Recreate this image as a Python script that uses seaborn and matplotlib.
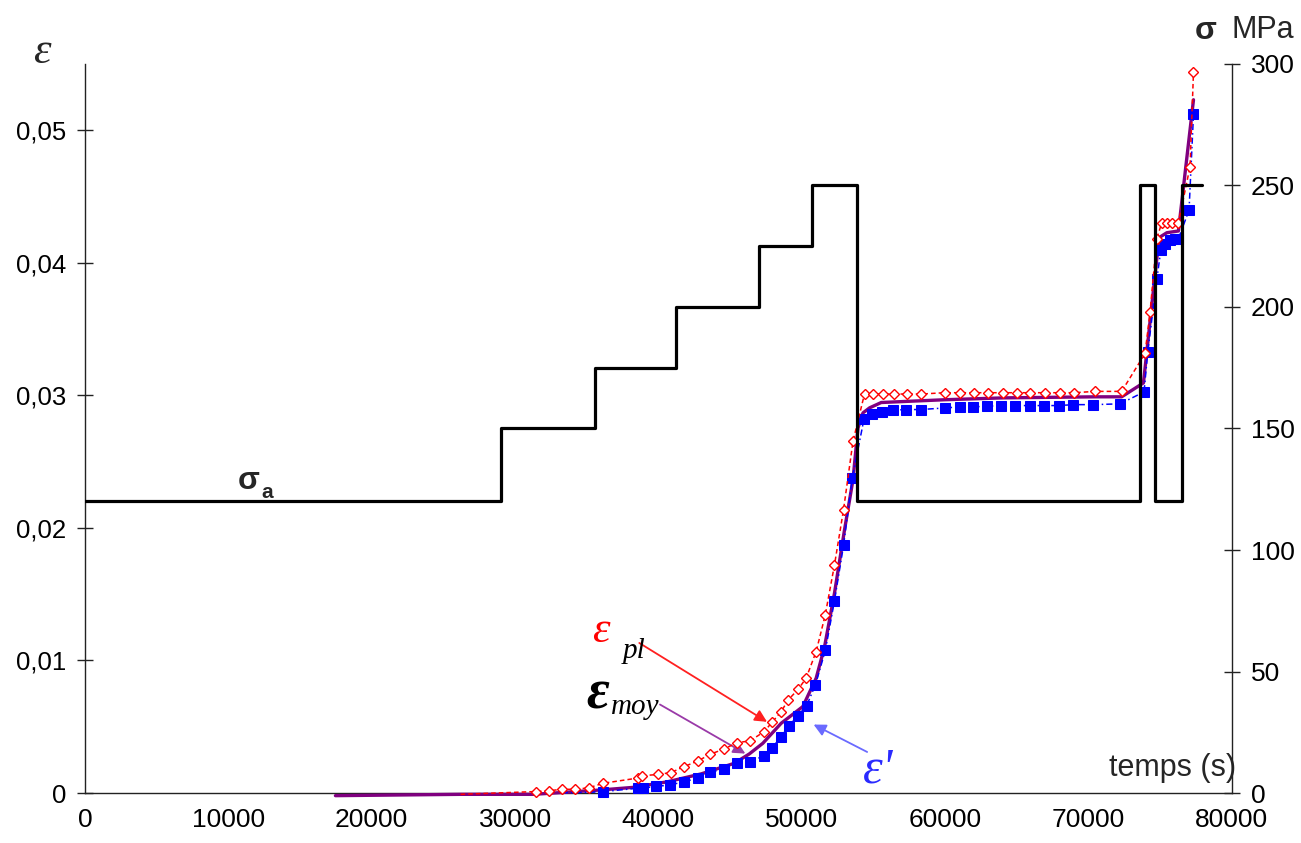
import numpy as np
import pandas as pd
import matplotlib
matplotlib.use("Agg")
import matplotlib.pyplot as plt
import seaborn as sns

# contrainte appliquee (MPa), paliers
t_sigma = [0, 29000, 35600, 41200, 47000, 50700, 53850, 73600, 74650, 76550, 77900]
sigma = [120, 150, 175, 200, 225, 250, 120, 250, 120, 250, 250]

# deformation epsilon (losanges rouges)
t_eps = [26200, 31440, 32350, 33260, 34170, 35140, 36120, 38570, 38850, 39960, 40870,
         41780, 42760, 43600, 44580, 45480, 46390, 47370, 47930, 48560, 49050, 49750,
         50300, 51000, 51630, 52280, 52910, 53570, 54380, 54970, 55660, 56430, 57360,
         58340, 59970, 61020, 62020, 63000, 64050, 64980, 65910, 66950, 68000, 69010,
         70450, 72310, 73940, 74290, 74760, 75110, 75460, 75810, 76270, 77080, 77320]
eps = [-0.0001, 0.00011, 0.00017, 0.00028, 0.00028, 0.00039, 0.00073, 0.00113, 0.0013,
       0.0014, 0.00154, 0.00199, 0.00242, 0.00292, 0.00332, 0.0038, 0.00393, 0.00463,
       0.00534, 0.00614, 0.00702, 0.00783, 0.00866, 0.01067, 0.01341, 0.01722, 0.02137,
       0.02653, 0.03014, 0.0301, 0.0301, 0.0301, 0.0301, 0.0301, 0.0302, 0.0302, 0.0302,
       0.0302, 0.0302, 0.0302, 0.0302, 0.0302, 0.0302, 0.0302, 0.0303, 0.0303, 0.03316,
       0.03628, 0.04182, 0.04303, 0.04303, 0.04303, 0.04303, 0.04726, 0.0544]

# deformation epsilon' (carres bleus)
t_epsp = [33260, 34170, 35140, 36100, 38540, 38890, 39820, 40800, 41760, 42740, 43620,
          44550, 45480, 46410, 47350, 47910, 48560, 49100, 49720, 50330, 50950, 51650,
          52280, 52910, 53520, 54340, 54900, 55590, 56360, 57290, 58290, 59970, 61020,
          61950, 62920, 63920, 64900, 65910, 66910, 67930, 68940, 70340, 72200, 73870,
          74130, 74760, 75040, 75340, 75690, 76040, 76270, 77010, 77320]
epsp = [0.00002, 0.00003, 0.00005, 0.0001, 0.00036, 0.00036, 0.0005, 0.0006, 0.00085,
        0.00111, 0.00156, 0.00181, 0.00229, 0.00237, 0.0028, 0.00338, 0.00425, 0.00506,
        0.00584, 0.00657, 0.00816, 0.0108, 0.01452, 0.01868, 0.02377, 0.02822, 0.02863,
        0.02875, 0.02888, 0.02893, 0.02893, 0.02905, 0.02913, 0.02913, 0.02918, 0.02923,
        0.02923, 0.02923, 0.02923, 0.02923, 0.0293, 0.0293, 0.02936, 0.03026, 0.03328,
        0.03875, 0.04094, 0.04139, 0.04172, 0.04182, 0.04182, 0.04398, 0.0512]

# deformation plastique moyenne (trait violet)
t_moy = [17470, 26200, 31300, 35980, 38290, 40640, 42970, 45290, 46340, 47280, 48560,
         50070, 51000, 51580, 52280, 52980, 53570, 53920, 54270, 54730, 55540, 57410,
         59970, 64050, 70430, 72310, 73830, 74920, 75460, 76270, 77320]
eps_moy = [-0.0002, -0.0001, -0.0001, 0.00023, 0.00043, 0.00085, 0.00144, 0.00224,
           0.00295, 0.00375, 0.00526, 0.00652, 0.00866, 0.0110, 0.01508, 0.01986, 0.02364,
           0.02755, 0.02868, 0.02906, 0.02946, 0.02955, 0.02967, 0.02981, 0.02989, 0.02989,
           0.03094, 0.0419, 0.04227, 0.0424, 0.0523]

x_ticks = list(range(0, 80001, 10000))
eps_ticks = [0, 0.01, 0.02, 0.03, 0.04, 0.05]
eps_ticklabels = ["0", "0,01", "0,02", "0,03", "0,04", "0,05"]
sigma_ticks = [0, 50, 100, 150, 200, 250, 300]

sns.set_style("white")
plt.rcParams["font.family"] = ["Liberation Sans", "DejaVu Sans"]

fig = plt.figure(figsize=(13.01, 8.43), dpi=100)
ax = fig.add_axes([0.0653, 0.0593, 0.8816, 0.8648])
ax2 = ax.twinx()

sns.lineplot(x=t_moy, y=eps_moy, ax=ax, color="#800080", lw=2.4, sort=False,
             estimator=None, zorder=3, clip_on=False)
sns.lineplot(x=t_epsp, y=epsp, ax=ax, color="blue", lw=1.1, linestyle=(0, (4, 2, 1, 2)),
             marker="s", markersize=6.5, markerfacecolor="blue", markeredgecolor="blue",
             markevery=list(range(3, len(t_epsp))),
             sort=False, estimator=None, zorder=4, clip_on=False)
sns.lineplot(x=t_eps, y=eps, ax=ax, color="red", lw=1.1, linestyle=(0, (3, 2)),
             marker="D", markersize=5.5, markerfacecolor="white", markeredgecolor="red",
             markeredgewidth=1, markevery=list(range(1, len(t_eps))),
             sort=False, estimator=None, zorder=5, clip_on=False)

sns.lineplot(x=t_sigma, y=sigma, ax=ax2, color="black", lw=2.3, drawstyle="steps-post",
             sort=False, estimator=None)

ax.set_xlim(0, 80000)
ax.set_ylim(0, 0.055)
ax2.set_ylim(0, 300)

ax.set_xticks(x_ticks)
ax.set_xticklabels([str(v) for v in x_ticks])
ax.set_yticks(eps_ticks)
ax.set_yticklabels(eps_ticklabels)
ax2.set_yticks(sigma_ticks)
ax2.set_yticklabels([str(v) for v in sigma_ticks])

for a in (ax, ax2):
    a.set_xlabel("")
    a.set_ylabel("")
    a.spines["top"].set_visible(False)
    for s in a.spines.values():
        s.set_color("#222222")
        s.set_linewidth(1.0)
ax.spines["right"].set_visible(False)
ax2.spines["left"].set_visible(False)
ax2.spines["bottom"].set_visible(False)

ax.tick_params(axis="x", direction="out", length=6, width=1, labelsize=19, pad=5,
               colors="#222222", labelcolor="black")
ax.tick_params(axis="y", direction="inout", length=11, width=1, labelsize=18.5, pad=8,
               colors="#222222", labelcolor="black")
ax2.tick_params(axis="y", direction="inout", length=11, width=1, labelsize=19, pad=8,
                colors="#222222", labelcolor="black")

serif = ["Liberation Serif", "DejaVu Serif"]

# titres d'axes
ax.text(-0.0375, 1.016, "ε", transform=ax.transAxes, ha="center", va="center",
        fontsize=32, style="italic", family=serif)
ax.text(0.977, 1.045, "σ", transform=ax.transAxes, ha="center", va="center",
        fontsize=23, fontweight="bold")
ax.text(1.0, 1.047, "MPa", transform=ax.transAxes, ha="left", va="center", fontsize=22)
ax.text(1.004, 0.034, "temps (s)", transform=ax.transAxes, ha="right", va="center",
        fontsize=22)

# sigma_a
ax2.text(11400, 128.5, "σ", ha="center", va="center", fontsize=23, fontweight="bold")
ax2.text(12700, 123.5, "a", ha="center", va="center", fontsize=15, fontweight="bold")

# annotations
ax.text(35980, 0.0122, "ε", color="red", ha="center", va="center", fontsize=32,
        style="italic", family=serif)
ax.annotate("", xy=(47740, 0.00526), xytext=(38500, 0.01143),
            arrowprops=dict(arrowstyle="-|>", color="#ff2020", lw=1.3, mutation_scale=18))

ax.text(35780, 0.00740, "ε", color="black", ha="center", va="center", fontsize=40,
        style="italic", fontweight="bold", family=serif)
ax.text(38300, 0.01070, "pl", color="black", ha="center", va="center", fontsize=21,
        style="italic", family=serif)
ax.text(38350, 0.00650, "moy", color="black", ha="center", va="center", fontsize=21,
        style="italic", family=serif)
ax.annotate("", xy=(46230, 0.00287), xytext=(39940, 0.00678),
            arrowprops=dict(arrowstyle="-|>", color="#9a3aa8", lw=1.3, mutation_scale=18))

ax.text(55350, 0.0017, "ε'", color="#2a2aff", ha="center", va="center", fontsize=36,
        style="italic", family=serif)
ax.annotate("", xy=(50650, 0.00526), xytext=(54730, 0.0030),
            arrowprops=dict(arrowstyle="-|>", color="#6a6aff", lw=1.3, mutation_scale=18))

fig.savefig("out.png", dpi=100)
